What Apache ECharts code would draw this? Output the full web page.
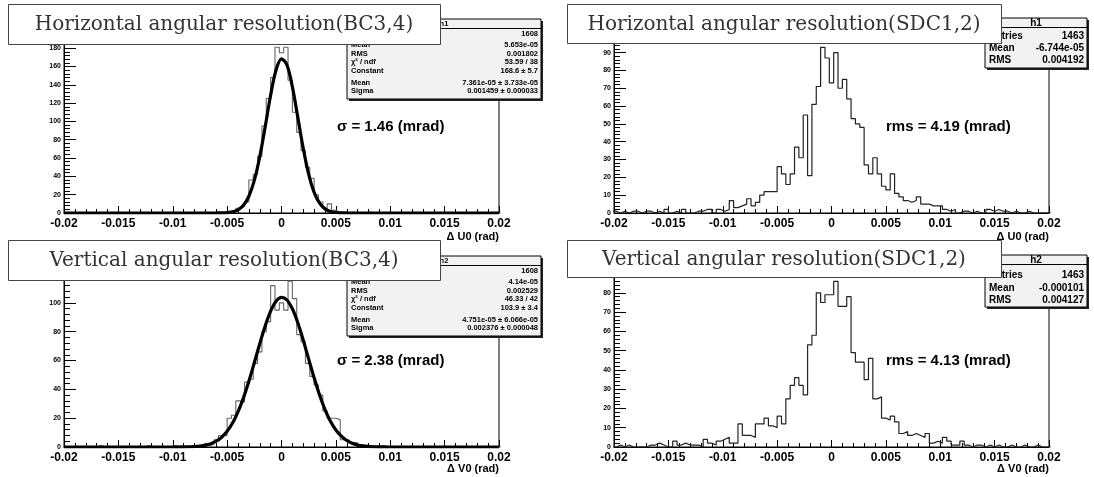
<!DOCTYPE html>
<html>
<head>
<meta charset="utf-8">
<script src="https://cdn.jsdelivr.net/npm/echarts@6/dist/echarts.min.js"></script>
<style>
  html, body { margin: 0; padding: 0; background: #fff; }
  #main { width: 1094px; height: 477px; }
</style>
</head>
<body>
<div id="main"></div>
<script>
// histogram bins: centre of bin k is k * binWidth, k = -50 .. 50
var binWidth = 0.0004;

var bcHoriz = [
  0,0,0,0,0,0,0,0,0,0,
  0,0,0,0,0,0,0,0,0,0,
  0,0,0,0,0,0,0,0,0,0,
  0,0,1,0,0,1,0,1,1,2,
  5,7,12,36,42,62,95,125,148,181,
  175,
  181,145,110,88,68,50,38,20,12,5,
  10,3,1,0,0,1,0,0,0,1,
  0,0,0,0,0,0,0,0,0,0,
  0,0,0,0,0,0,0,0,0,0,
  0,0,0,0,0,0,0,0,0,0
];
var sdcHoriz = [
  1,0,1,0,1,1,0,1,1,0,
  1,0,2,0,1,0,2,0,0,1,
  1,2,2,0,2,1,2,7,3,4,
  5,8,4,6,10,12,12,12,26,22,
  16,22,37,31,55,21,61,71,93,87,
  73,
  90,70,75,64,53,50,48,27,22,31,
  22,15,13,22,11,9,7,6,7,9,
  5,5,4,4,4,2,1,2,0,1,
  1,0,1,0,0,2,1,2,1,1,
  0,1,0,0,1,0,0,0,0,0
];
var bcVert = [
  0,0,0,0,0,0,0,0,1,0,
  0,0,0,0,0,0,0,0,0,1,
  0,0,0,0,0,1,0,0,0,1,
  1,0,1,1,2,5,8,8,20,22,
  32,31,45,47,58,66,80,87,112,95,
  100,
  95,115,103,78,73,58,49,43,36,25,
  20,20,19,5,5,3,3,1,0,1,
  0,0,1,0,0,0,0,0,0,0,
  0,0,0,0,0,0,0,0,0,0,
  0,0,0,0,0,0,0,0,0,0
];
var sdcVert = [
  0,1,0,1,0,0,0,0,1,1,
  2,1,0,0,3,1,2,1,1,1,
  0,4,2,1,3,4,5,2,2,12,
  6,6,5,12,12,15,11,10,16,12,
  25,32,36,32,27,53,58,80,75,79,
  79,
  86,73,73,78,49,44,44,35,46,25,
  26,15,14,16,13,7,8,6,7,6,
  5,7,2,3,2,5,3,1,1,3,
  1,0,1,1,0,1,0,1,0,0,
  1,0,0,1,0,0,1,0,0,0
];

// gaussian fit curves
var fitHorizX = [-0.02, -0.007, -0.006, -0.0055, -0.005, -0.0045, -0.004, -0.0035, -0.003, -0.0025,
  -0.002, -0.0015, -0.001, -0.0005, 0, 0.0005, 0.001, 0.0015, 0.002, 0.0025, 0.003, 0.0035,
  0.004, 0.0045, 0.005, 0.0055, 0.006, 0.007, 0.02];
var fitHorizY = [0, 0, 0.03, 0.11, 0.40, 1.24, 3.4, 8.4, 18.3, 35.6,
  61.4, 94.2, 128.6, 156.1, 168.4, 161.6, 137.8, 104.5, 70.5, 42.3, 22.5, 10.7,
  4.5, 1.7, 0.56, 0.17, 0.05, 0, 0];
var fitVertX = [-0.02, -0.01, -0.009, -0.0085, -0.008, -0.0075, -0.007, -0.0065, -0.006, -0.0055,
  -0.005, -0.0045, -0.004, -0.0035, -0.003, -0.0025, -0.002, -0.0015, -0.001, -0.0005, 0,
  0.0005, 0.001, 0.0015, 0.002, 0.0025, 0.003, 0.0035, 0.004, 0.0045, 0.005, 0.0055,
  0.006, 0.0065, 0.007, 0.0075, 0.008, 0.0085, 0.009, 0.01, 0.02];
var fitVertY = [0, 0, 0.07, 0.16, 0.34, 0.67, 1.28, 2.33, 4.07, 6.8,
  10.9, 16.6, 24.4, 34.1, 45.6, 58.5, 71.7, 84.0, 94.3, 101.2, 103.9,
  102.0, 95.9, 86.2, 74.1, 61.0, 48.0, 36.1, 26.0, 17.9, 11.8, 7.5,
  4.5, 2.6, 1.43, 0.76, 0.38, 0.18, 0.09, 0, 0];

var xTickLabels = ['-0.02', '-0.015', '-0.01', '-0.005', '0', '0.005', '0.01', '0.015', '0.02'];
var yTicksBCHoriz = [0, 20, 40, 60, 80, 100, 120, 140, 160, 180];
var yTicksBCVert = [0, 20, 40, 60, 80, 100, 120];
var yTicksSDC = [0, 10, 20, 30, 40, 50, 60, 70, 80, 90];

var titles = ['Horizontal angular resolution(BC3,4)', 'Horizontal angular resolution(SDC1,2)',
  'Vertical angular resolution(BC3,4)', 'Vertical angular resolution(SDC1,2)'];
var notes = ['\u03c3 = 1.46 (mrad)', 'rms = 4.19 (mrad)', '\u03c3 = 2.38 (mrad)', 'rms = 4.13 (mrad)'];
var axisNames = ['\u0394 U0 (rad)', '\u0394 U0 (rad)', '\u0394 V0 (rad)', '\u0394 V0 (rad)'];

var statsBCHoriz = [['Entries', '1608'], ['Mean', '5.653e-05'], ['RMS', '0.001802'], ['\u03c7\u00b2 / ndf', '53.59 / 38'],
  ['Constant', '168.6 \u00b1 5.7'], ['Mean', '7.361e-05 \u00b1 3.733e-05'], ['Sigma', '0.001459 \u00b1 0.000033']];
var statsBCVert = [['Entries', '1608'], ['Mean', '4.14e-05'], ['RMS', '0.002529'], ['\u03c7\u00b2 / ndf', '46.33 / 42'],
  ['Constant', '103.9 \u00b1 3.4'], ['Mean', '4.751e-05 \u00b1 6.066e-05'], ['Sigma', '0.002376 \u00b1 0.000048']];
var statsSDCHoriz = [['Entries', '1463'], ['Mean', '-6.744e-05'], ['RMS', '0.004192']];
var statsSDCVert = [['Entries', '1463'], ['Mean', '-0.000101'], ['RMS', '0.004127']];

function histData(counts) {
  var half = (counts.length - 1) / 2;
  var pts = [];
  for (var i = 0; i < counts.length; i++) {
    pts.push([(i - half - 0.5) * binWidth, counts[i]]);
  }
  pts.push([(half + 0.5) * binWidth, counts[counts.length - 1]]);
  return pts;
}
function pairs(xs, ys) {
  return xs.map(function (x, i) { return [x, ys[i]]; });
}

var chart = echarts.init(document.getElementById('main'));

var grids = [
  { left: 64, top: 39 }, { left: 614, top: 39 },
  { left: 64, top: 273 }, { left: 614, top: 273 }
];
var frameW = 435, frameH = 174;
var yMax = [190, 97.65, 120.75, 90.3];
var yTickSets = [yTicksBCHoriz, yTicksSDC, yTicksBCVert, yTicksSDC];
var yStep = [20, 10, 20, 10];

var option = {
  animation: false,
  grid: grids.map(function (g) {
    return { left: g.left, top: g.top, width: frameW, height: frameH, show: true,
      borderColor: '#000', borderWidth: 1, backgroundColor: 'transparent', outerBoundsMode: 'none' };
  }),
  xAxis: grids.map(function (g, i) {
    return {
      type: 'value', gridIndex: i, min: -0.02, max: 0.02, interval: 0.005,
      axisLine: { onZero: false, lineStyle: { color: '#000', width: 1 } },
      axisTick: { inside: true, length: 7, lineStyle: { color: '#000' } },
      minorTick: { show: true, splitNumber: 5, length: 4, lineStyle: { color: '#000' } },
      splitLine: { show: false },
      axisLabel: {
        margin: 5, color: '#000', fontFamily: 'Liberation Sans', fontWeight: 'bold', fontSize: 12,
        formatter: function (v) { return xTickLabels[Math.round((v + 0.02) / 0.005)]; }
      }
    };
  }),
  yAxis: grids.map(function (g, i) {
    return {
      type: 'value', gridIndex: i, min: 0, max: yMax[i], interval: yStep[i],
      axisLine: { show: true, onZero: false, lineStyle: { color: '#000', width: 1 } },
      axisTick: { inside: true, length: 12, lineStyle: { color: '#000' } },
      minorTick: { show: true, splitNumber: 5, length: 6, lineStyle: { color: '#000' } },
      splitLine: { show: false },
      axisLabel: {
        margin: 3, color: '#000', fontFamily: 'Liberation Sans', fontWeight: 'bold', fontSize: 7,
        formatter: function (v) {
          var t = yTickSets[i];
          for (var j = 0; j < t.length; j++) { if (Math.abs(t[j] - v) < 1e-6) return String(t[j]); }
          return '';
        }
      }
    };
  }),
  series: [
    { type: 'line', xAxisIndex: 0, yAxisIndex: 0, step: 'end', symbol: 'none', data: histData(bcHoriz),
      lineStyle: { color: '#666', width: 1.1 }, z: 2 },
    { type: 'line', xAxisIndex: 0, yAxisIndex: 0, smooth: 0.35, symbol: 'none', data: pairs(fitHorizX, fitHorizY),
      lineStyle: { color: '#000', width: 3.2 }, z: 3 },
    { type: 'line', xAxisIndex: 1, yAxisIndex: 1, step: 'end', symbol: 'none', data: histData(sdcHoriz),
      lineStyle: { color: '#222', width: 1.2 }, z: 2 },
    { type: 'line', xAxisIndex: 2, yAxisIndex: 2, step: 'end', symbol: 'none', data: histData(bcVert),
      lineStyle: { color: '#666', width: 1.1 }, z: 2 },
    { type: 'line', xAxisIndex: 2, yAxisIndex: 2, smooth: 0.35, symbol: 'none', data: pairs(fitVertX, fitVertY),
      lineStyle: { color: '#000', width: 3.2 }, z: 3 },
    { type: 'line', xAxisIndex: 3, yAxisIndex: 3, step: 'end', symbol: 'none', data: histData(sdcVert),
      lineStyle: { color: '#222', width: 1.2 }, z: 2 }
  ]
};

// ---- boxes and text drawn on top ----
var gfx = [];
function txt(x, y, s, size, weight, align, family, color) {
  gfx.push({ type: 'text', x: x, y: y, z: 100, style: {
    text: s, fontSize: size, fontWeight: weight || 'normal', fontFamily: family || 'Liberation Sans',
    fill: color || '#000', align: align || 'left', verticalAlign: 'middle' } });
}
function rect(x, y, w, h, fill, stroke) {
  gfx.push({ type: 'rect', z: 100, shape: { x: x, y: y, width: w, height: h },
    style: { fill: fill, stroke: stroke || null, lineWidth: 1 } });
}
function line(x1, y1, x2, y2, color) {
  gfx.push({ type: 'line', z: 100, shape: { x1: x1, y1: y1, x2: x2, y2: y2 },
    style: { stroke: color || '#000', lineWidth: 1 } });
}
function stats(x, y, w, h, name, rows, rowY, size) {
  rect(x + 2, y + 2, w, h, '#222');
  rect(x, y, w, h, '#f2f2f2', '#000');
  var hh = rowY[0] - y;
  txt(x + w / 2, y + hh / 2 + 0.5, name, size, 'bold', 'center');
  line(x, y + hh + 0.5, x + w, y + hh + 0.5, '#000');
  for (var i = 0; i < rows.length; i++) {
    txt(x + 4, rowY[i + 1], rows[i][0], size, 'bold', 'left');
    txt(x + w - 3, rowY[i + 1], rows[i][1], size, 'bold', 'right');
  }
}

stats(347, 19, 194, 80, 'h1', statsBCHoriz, [28, 34, 44.5, 54, 62, 71, 83, 91], 7.5);
stats(347, 256, 194, 80, 'h2', statsBCVert, [265, 271, 281.5, 291, 299, 308, 320, 328], 7.5);
stats(985, 18, 102, 50, 'h1', statsSDCHoriz, [27, 36, 48, 60], 10);
stats(985, 255, 102, 52, 'h2', statsSDCVert, [264, 275, 288, 300], 10);

txt(337, 127, notes[0], 15, 'bold');
txt(886, 127, notes[1], 15, 'bold');
txt(337, 361, notes[2], 15, 'bold');
txt(886, 361, notes[3], 15, 'bold');

txt(64 + frameW, 237, axisNames[0], 11, 'bold', 'right');
txt(614 + frameW, 237, axisNames[1], 11, 'bold', 'right');
txt(64 + frameW, 469, axisNames[2], 11, 'bold', 'right');
txt(614 + frameW, 469, axisNames[3], 11, 'bold', 'right');

var tb = [[8, 4, 432, 40], [567, 4, 434, 39], [8, 240, 432, 40], [567, 240, 434, 37]];
for (var t = 0; t < 4; t++) {
  rect(tb[t][0] + 0.5, tb[t][1] + 0.5, tb[t][2], tb[t][3], '#fff', '#444');
  txt(tb[t][0] + tb[t][2] / 2, tb[t][1] + tb[t][3] / 2 + 1, titles[t], 20, 'normal', 'center', 'DejaVu Serif', '#333');
}

option.graphic = { elements: gfx };
chart.setOption(option);
</script>
</body>
</html>
